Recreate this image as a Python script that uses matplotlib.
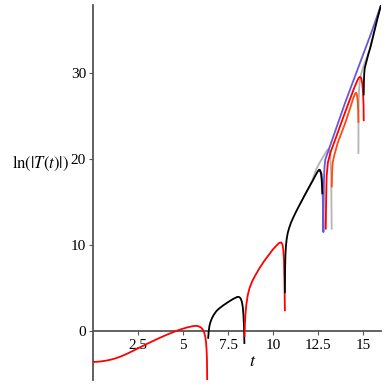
import matplotlib
matplotlib.use("Agg")
import matplotlib.pyplot as plt

plt.rcParams['mathtext.fontset'] = 'stix'
plt.rcParams['font.family'] = ['Liberation Serif', 'DejaVu Serif']

# ---- data ----
# segment 1 (red)
t_red1 = [0, 0.25, 0.5, 0.75, 1.0, 1.25, 1.5, 1.75, 2.0, 2.25, 2.5, 2.75, 3.0, 3.25, 3.5, 3.75,
          4.0, 4.25, 4.5, 4.75, 5.0, 5.25, 5.5, 5.7, 5.85, 6.0, 6.1, 6.18, 6.24, 6.28, 6.31, 6.33, 6.35]
y_red1 = [-3.6, -3.58, -3.52, -3.44, -3.33, -3.18, -3.0, -2.78, -2.54, -2.28, -2.02, -1.76, -1.5, -1.25, -1.0, -0.76,
          -0.53, -0.31, -0.1, 0.1, 0.27, 0.42, 0.54, 0.6, 0.56, 0.4, 0.15, -0.2, -0.7, -1.3, -2.2, -3.3, -6.5]

# segment 2 (black)
t_blk2 = [6.4, 6.43, 6.47, 6.52, 6.6, 6.7, 6.85, 7.0, 7.25, 7.5, 7.75, 8.0, 8.1, 8.2, 8.27, 8.32, 8.36, 8.39, 8.41]
y_blk2 = [-0.8, 0.0, 0.6, 1.0, 1.45, 1.85, 2.3, 2.6, 3.0, 3.35, 3.68, 3.95, 3.97, 3.8, 3.4, 2.8, 1.8, 0.4, -1.4]

# segment 3 (red)
t_red3 = [8.42, 8.44, 8.47, 8.52, 8.6, 8.7, 8.85, 9.0, 9.25, 9.5, 9.75, 10.0, 10.2, 10.35, 10.45, 10.52,
          10.57, 10.61, 10.64, 10.66]
y_red3 = [-0.6, 0.8, 2.0, 3.1, 4.2, 5.0, 5.8, 6.4, 7.3, 8.1, 8.8, 9.5, 9.95, 10.25, 10.3, 10.1,
          9.5, 8.2, 5.5, 2.4]

# segment 4 (black)
t_blk4 = [10.66, 10.67, 10.69, 10.72, 10.76, 10.82, 10.9, 11.0, 11.15, 11.3, 11.5, 11.75, 12.0, 12.2,
          12.35, 12.47, 12.56, 12.62, 12.67, 12.71, 12.74]
y_blk4 = [4.5, 7.0, 8.8, 9.9, 10.7, 11.4, 12.0, 12.6, 13.3, 13.95, 14.75, 15.75, 16.7, 17.45,
          18.05, 18.5, 18.75, 18.7, 18.3, 17.4, 16.0]

# late black branch
t_blk5 = [15.04, 15.05, 15.07, 15.1, 15.2, 15.3, 15.4, 15.6, 15.8, 16.0]
y_blk5 = [27.5, 29.0, 30.0, 30.6, 31.4, 32.2, 32.9, 34.6, 36.3, 37.9]

# blue curve
t_blue = [12.6, 12.7, 12.75, 12.78, 12.8, 12.81, 12.83, 12.86, 12.9, 13.0, 13.5, 14.0, 14.5, 15.0, 15.5, 15.95]
y_blue = [18.6, 18.3, 17.0, 14.0, 11.5, 14.5, 17.5, 19.0, 19.9, 20.5, 23.5, 26.5, 29.3, 32.1, 34.9, 37.6]

# red curve (late)
t_red5 = [12.93, 12.95, 12.98, 13.05, 13.2, 13.5, 14.0, 14.5, 14.65, 14.75, 14.83, 14.9, 14.96, 15.0, 15.03, 15.04]
y_red5 = [11.9, 15.0, 18.0, 19.6, 20.8, 22.5, 25.4, 28.2, 28.95, 29.4, 29.55, 29.4, 28.8, 27.8, 26.3, 24.5]

# orange-red curve
t_orng = [13.265, 13.28, 13.32, 13.4, 13.6, 14.0, 14.3, 14.45, 14.55, 14.62, 14.67, 14.71, 14.735, 14.745]
y_orng = [16.8, 18.3, 19.6, 20.4, 21.9, 24.1, 26.0, 27.0, 27.55, 27.7, 27.4, 26.6, 25.5, 24.3]

# gray curve (two visible pieces)
t_gry1 = [11.5, 12.0, 12.2, 12.4, 12.6, 12.8, 13.0, 13.1, 13.18, 13.23, 13.26]
y_gry1 = [14.75, 16.7, 17.6, 18.8, 19.6, 20.3, 21.0, 21.2, 20.5, 18.5, 11.9]
t_gry2 = [14.745, 14.75, 14.76, 14.78, 14.83, 14.9, 15.0, 15.1, 15.2, 15.3, 15.4, 15.6, 15.8, 16.0]
y_gry2 = [20.7, 24.5, 26.5, 28.0, 29.2, 29.9, 30.6, 31.2, 31.7, 32.3, 32.9, 34.6, 36.3, 37.9]

x_ticks = [2.5, 5, 7.5, 10, 12.5, 15]
x_tick_labels = ['2.5', '5', '7.5', '10', '12.5', '15']
y_ticks = [0, 10, 20, 30]
y_tick_labels = ['0', '10', '20', '30']

# ---- figure ----
W = H = 387
fig = plt.figure(figsize=(W / 100, H / 100), dpi=100)
ax = fig.add_axes([93 / W, 7 / H, (381 - 93) / W, (380 - 5) / H])
ax.set_xlim(0, 16)
ax.set_ylim(-5.7, 37.9)

lw = 1.3
RED = '#ff0000'
BLK = '#000000'
GRY = '#b4b4b4'
BLU = '#6a5acd'
ORG = '#ff4a10'

ax.plot(t_gry1, y_gry1, color=GRY, lw=lw, zorder=2)
ax.plot(t_gry2, y_gry2, color=GRY, lw=lw, zorder=2)
ax.plot(t_orng, y_orng, color=ORG, lw=lw, zorder=3)
ax.plot(t_red5, y_red5, color=RED, lw=lw, zorder=4)
ax.plot(t_blue, y_blue, color=BLU, lw=lw, zorder=5)
ax.plot(t_red1, y_red1, color=RED, lw=lw, zorder=6)
ax.plot(t_blk2, y_blk2, color=BLK, lw=lw, zorder=6)
ax.plot(t_red3, y_red3, color=RED, lw=lw, zorder=6)
ax.plot(t_blk4, y_blk4, color=BLK, lw=lw, zorder=6)
ax.plot(t_blk5, y_blk5, color=BLK, lw=lw, zorder=6)

for s in ['top', 'right']:
    ax.spines[s].set_visible(False)
ax.spines['left'].set_position(('data', 0))
ax.spines['bottom'].set_position(('data', 0))
for s in ['left', 'bottom']:
    ax.spines[s].set_color('#555555')
    ax.spines[s].set_linewidth(1.3)
    ax.spines[s].set_zorder(1)

ax.set_xticks(x_ticks)
ax.set_xticklabels(x_tick_labels)
ax.set_yticks(y_ticks)
ax.set_yticklabels(y_tick_labels)
ax.tick_params(axis='both', colors='#555555', length=3, width=0.8, labelcolor='black', labelsize=11)
ax.tick_params(axis='x', direction='out', pad=3)
ax.tick_params(axis='y', direction='out', pad=2)
ax.patch.set_alpha(0)

fig.text(253 / W, 1 - 361 / H, r'$t$', fontsize=13, ha='center', va='center')
fig.text(40 / W, 1 - 163 / H, r'$\mathrm{ln}(|T(t)|)$', fontsize=12, ha='center', va='center')

fig.savefig('out.png', dpi=100)
